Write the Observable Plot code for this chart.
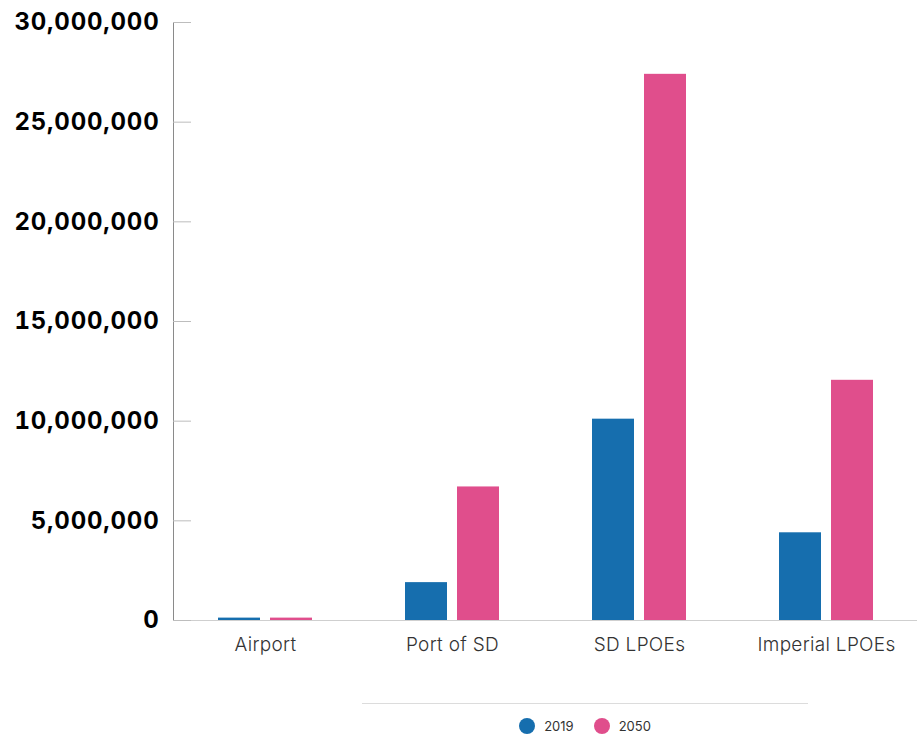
<!DOCTYPE html>
<html>
<head>
<meta charset="utf-8">
<script src="https://cdn.jsdelivr.net/npm/d3@7"></script>
<script src="https://cdn.jsdelivr.net/npm/@observablehq/plot@0.6"></script>
<style>
  body { margin: 0; background: #fff; font-family: Inter, "Open Sans", sans-serif; }
  #chart svg { display: block; }
  .ylab text { font-family: Inter, sans-serif; font-weight: 700; font-size: 24px; letter-spacing: 0.8px; fill: #000; }
  .xlab text { font-family: Inter, sans-serif; font-weight: 300; font-size: 19px; letter-spacing: 0.3px; fill: #333; }
  #legendwrap { margin-left: 362px; width: 446px; border-top: 1px solid #dcdcdc; margin-top: 33px; }
  #legend { display: flex; justify-content: center; gap: 20px; padding-top: 14px; font-size: 13px; color: #333; font-family: Inter, sans-serif; font-weight: 400; }
  #legend .item { display: flex; align-items: center; gap: 9px; }
  #legend .sw { width: 16px; height: 16px; border-radius: 50%; display: inline-block; }
</style>
</head>
<body>
<div id="chart"></div>
<div id="legendwrap"><div id="legend"></div></div>
<script>
const categories = ["Airport", "Port of SD", "SD LPOEs", "Imperial LPOEs"];
const years = ["2019", "2050"];
const values2019 = [120000, 1900000, 10100000, 4400000];
const values2050 = [120000, 6700000, 27400000, 12050000];
const yTicks = [0, 5000000, 10000000, 15000000, 20000000, 25000000, 30000000];
const colors = ["#166eae", "#e04e8c"];

const rows2019 = categories.map((c, i) => ({category: c, year: "2019", value: values2019[i]}));
const rows2050 = categories.map((c, i) => ({category: c, year: "2050", value: values2050[i]}));

const fmt = d3.format(",");

const chart = Plot.plot({
  width: 917,
  height: 670,
  marginLeft: 173,
  marginRight: 0,
  marginTop: 22,
  marginBottom: 50,
  x: {domain: categories, paddingInner: 0.5, paddingOuter: 0.23, label: null},
  y: {domain: [0, 30000000], label: null},
  color: {domain: years, range: colors},
  marks: [
    Plot.frame({anchor: "left", stroke: "#8a8a8a"}),
    Plot.ruleY([0], {stroke: "#cfcfcf"}),
    Plot.barY(rows2019, {x: "category", y: "value", fill: "year", insetRight: 52}),
    Plot.barY(rows2050, {x: "category", y: "value", fill: "year", insetLeft: 52}),
    Plot.axisY(yTicks, {tickSize: -18, tickPadding: 32, stroke: "#bdbdbd", tickFormat: fmt, className: "ylab", label: null}),
    Plot.axisX({tickSize: 0, tickPadding: 17, className: "xlab", label: null})
  ]
});
document.getElementById("chart").appendChild(chart);

const legend = document.getElementById("legend");
years.forEach((y, i) => {
  const item = document.createElement("span");
  item.className = "item";
  const sw = document.createElement("span");
  sw.className = "sw";
  sw.style.background = colors[i];
  const t = document.createElement("span");
  t.textContent = y;
  item.appendChild(sw);
  item.appendChild(t);
  legend.appendChild(item);
});
</script>
</body>
</html>
